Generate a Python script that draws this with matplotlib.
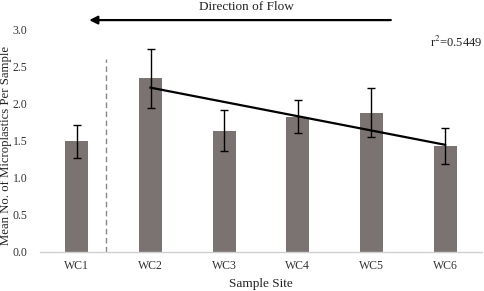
import numpy as np
import matplotlib
matplotlib.use("Agg")
import matplotlib.pyplot as plt

# data
sites = ["WC1", "WC2", "WC3", "WC4", "WC5", "WC6"]
means = [1.49, 2.34, 1.63, 1.82, 1.87, 1.42]
err_hi = [1.71, 2.73, 1.91, 2.04, 2.20, 1.66]
err_lo = [1.26, 1.94, 1.36, 1.60, 1.54, 1.18]
trend_sites = [1, 5]
trend_vals = [2.21, 1.44]
r2_text = "r$^2$=0.5449"

plt.rcParams["font.family"] = ["Liberation Serif", "DejaVu Serif"]
plt.rcParams["mathtext.fontset"] = "stix"

fig = plt.figure(figsize=(4.84, 2.91), dpi=100)
ax = fig.add_axes([40 / 484, 39.3 / 291, 442 / 484, 222.7 / 291])

x = np.arange(len(sites))
means = np.array(means)
yerr = [means - np.array(err_lo), np.array(err_hi) - means]
ax.bar(x, means, width=0.31, color="#7b7371", zorder=2)
ax.errorbar(x, means, yerr=yerr, fmt="none", ecolor="black",
            elinewidth=1.0, capsize=3, capthick=1.0, zorder=3)

# trend line across WC2..WC6
ax.plot(trend_sites, trend_vals, color="black", lw=1.6, zorder=4)

# dashed separator between WC1 and WC2
ax.plot([0.4, 0.4], [0, 2.6], color="#888888", lw=1.0,
        ls=(0, (4, 2.5)), zorder=1)

ax.set_xlim(-0.5, 5.5)
ax.set_ylim(0, 3.0)
ax.set_yticks(np.arange(0, 3.01, 0.5))
ax.set_yticklabels(["%.1f" % v for v in np.arange(0, 3.01, 0.5)])
ax.set_xticks(x)
ax.set_xticklabels(sites)
ax.tick_params(axis="both", length=0, labelsize=8.5, colors="#333333", pad=6)
ax.tick_params(axis="y", pad=9)

for s in ["top", "right", "left"]:
    ax.spines[s].set_visible(False)
ax.spines["bottom"].set_color("#d0d0d0")
ax.spines["bottom"].set_linewidth(1.0)

ax.set_xlabel("Sample Site", fontsize=9.5, color="#222222", labelpad=4)
ax.set_ylabel("Mean No. of Microplastics Per Sample", fontsize=9.2,
              color="#222222")
ax.yaxis.set_label_coords(-28 / 442, 0.475)

ax.text(5.5, 2.82, r2_text, fontsize=9, color="#222222", ha="right", va="center")

# flow arrow above the plot
ax.annotate("", xy=(0.13, 3.12), xytext=(4.3, 3.12), xycoords="data",
            annotation_clip=False,
            arrowprops=dict(arrowstyle="-|>", color="black", lw=1.6,
                            mutation_scale=12))
ax.text(2.3, 3.29, "Direction of Flow", fontsize=9.5, color="#222222",
        ha="center", va="center", clip_on=False)

fig.savefig("out.png", dpi=100)
